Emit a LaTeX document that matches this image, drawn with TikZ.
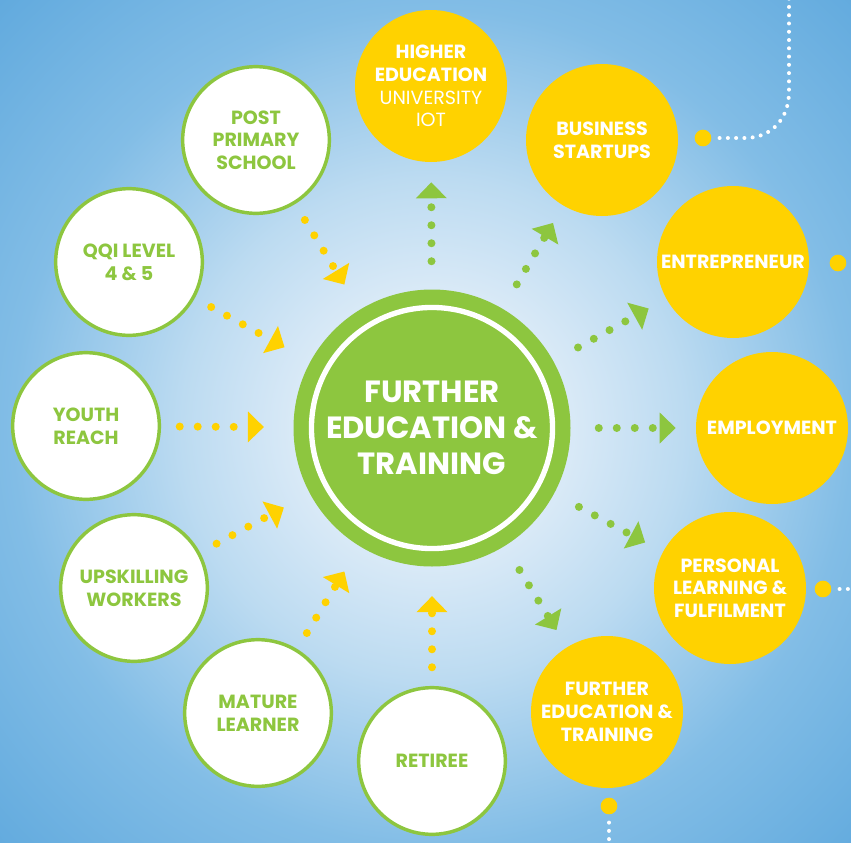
\documentclass[tikz,border=0pt]{standalone}
\usepackage{fontspec}
\setmainfont{Poppins}
\usepackage{tikz}
\usetikzlibrary{arrows.meta}
\definecolor{fetgreen}{HTML}{8DC63F}
\definecolor{fetyellow}{HTML}{FFD200}
\definecolor{bgin}{HTML}{E6F1FA}
\definecolor{bgnear}{HTML}{DAEAF7}
\definecolor{bgmid}{HTML}{BCDBF1}
\definecolor{bgfar}{HTML}{82BDE6}
\definecolor{bgout}{HTML}{5EA8DD}
\pgfdeclareradialshading{bgglow}{\pgfpoint{0bp}{0bp}}{color(0bp)=(bgin); color(100bp)=(bgnear); color(187bp)=(bgmid); color(314bp)=(bgfar); color(470bp)=(bgout)}
\tikzset{
  src/.style={circle, draw=fetgreen, line width=2.6pt, fill=white, minimum size=110pt, inner sep=0pt,
    align=center, text=fetgreen, font=\fontsize{14.3}{17}\selectfont\bfseries},
  dst/.style={circle, fill=fetyellow, minimum size=114pt, inner sep=0pt,
    align=center, text=white, font=\fontsize{14.3}{17}\selectfont\bfseries},
  hub/.style={circle, fill=fetgreen, minimum size=207.75pt, inner sep=0pt, align=center, text=white,
    font=\fontsize{23}{27}\selectfont\bfseries,
    path picture={\draw[white, line width=4pt] (path picture bounding box.center) circle (90.4pt);}},
  inflow/.style={draw=fetyellow, line width=6pt, line cap=round, dash pattern=on 0pt off 13.5pt,
    shorten <=14pt, shorten >=22pt, -{Triangle[length=12pt, width=22.5pt]}},
  outflow/.style={draw=fetgreen, line width=6pt, line cap=round, dash pattern=on 0pt off 13.5pt,
    shorten <=21pt, shorten >=15pt, -{Triangle[length=12pt, width=22.5pt]}},
  trail/.style={draw=white, line width=3pt, line cap=round, dash pattern=on 0pt off 6.2pt},
  knob/.style={circle, fill=fetyellow, minimum size=12.5pt, inner sep=0pt},
}

\begin{document}
\begin{tikzpicture}[x=0.75pt, y=-0.75pt]
  \useasboundingbox (0,0) rectangle (851,843);
  \begin{scope}
    \clip (0,0) rectangle (851,843);
    \node[inner sep=0pt] (glow) at (432,428) {\pgfuseshading{bgglow}};
  \end{scope}

  % centre
  \node[hub] (fet) at (432,428) {FURTHER\\EDUCATION \&\\TRAINING};

  % coming in
  \node[src] (pps) at (256,140) {POST\\PRIMARY\\SCHOOL};
  \node[src] (qqi) at (129,262) {QQI LEVEL\\4 \& 5};
  \node[src] (yre) at (86,426) {YOUTH\\REACH};
  \node[src] (upw) at (134,588) {UPSKILLING\\WORKERS};
  \node[src] (mlr) at (258,713) {MATURE\\LEARNER};
  \node[src] (ret) at (432,761) {RETIREE};

  % going out
  \node[dst] (heu) at (431,86) {HIGHER\\EDUCATION\\{\mdseries UNIVERSITY}\\{\mdseries IOT}};
  \node[dst] (bsu) at (602,140) {BUSINESS\\STARTUPS};
  \node[dst] (ent) at (733,262) {\makebox[0pt]{ENTREPRENEUR}};
  \node[dst] (emp) at (772,428) {EMPLOYMENT};
  \node[dst] (plf) at (730,588) {PERSONAL\\LEARNING \&\\FULFILMENT};
  \node[dst] (fed) at (607,712) {FURTHER\\EDUCATION \&\\TRAINING};

  \draw[inflow] (pps) -- (fet);
  \draw[inflow] (qqi) -- (fet);
  \draw[inflow] (yre) -- (fet);
  \draw[inflow] (upw) -- (fet);
  \draw[inflow] (mlr) -- (fet);
  \draw[inflow] (ret) -- (fet);

  \draw[outflow] (fet) -- (heu);
  \draw[outflow] (fet) -- (bsu);
  \draw[outflow] (fet) -- (ent);
  \draw[outflow] (fet) -- (emp);
  \draw[outflow] (fet) -- (plf);
  \draw[outflow] (fet) -- (fed);

  % loose ends
  \node[knob] (bsuk) at (703,138) {};
  \node[knob] (entk) at (838,263) {};
  \node[knob] (plfk) at (823,589) {};
  \node[knob] (fedk) at (609,806) {};
  \coordinate (bsut) at (789,-4);
  \coordinate (plft) at (856,589);
  \coordinate (fedt) at (609,848);
  \draw[trail, shorten <=6pt] (bsuk.east) -- (745,138) .. controls (772,138) and (789,118) .. (789,92) -- (bsut);
  \draw[trail, shorten <=6pt] (plfk.east) -- (plft);
  \draw[trail, shorten <=6pt] (fedk.south) -- (fedt);
\end{tikzpicture}
\end{document}
